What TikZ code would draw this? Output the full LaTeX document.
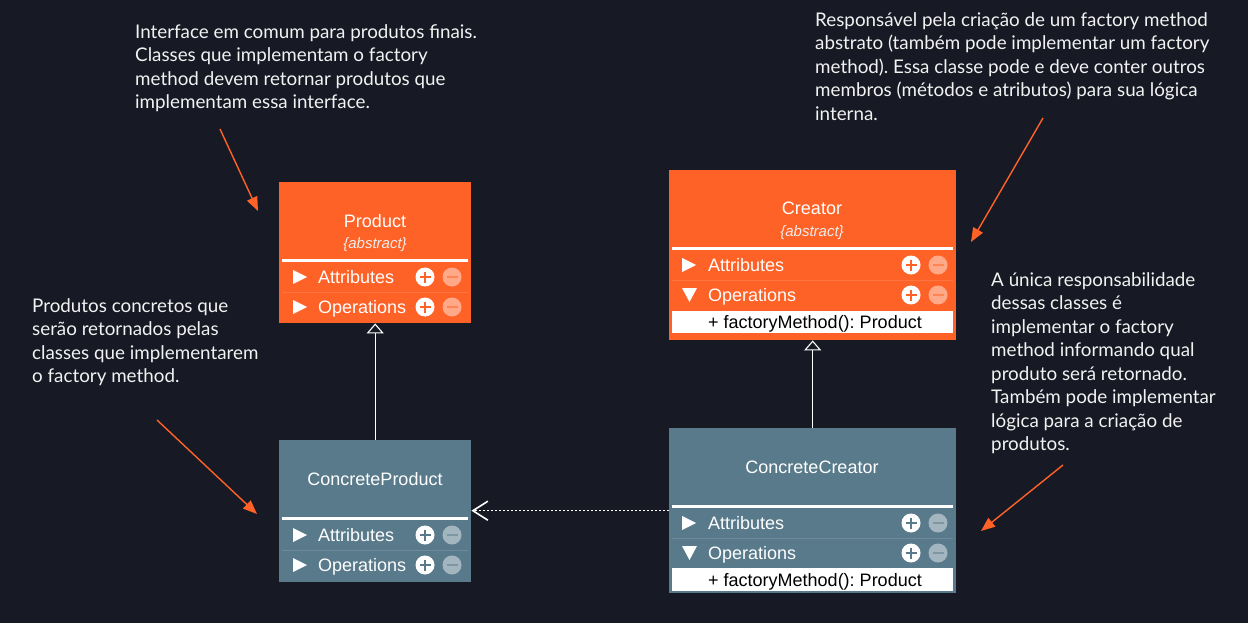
\documentclass[tikz,border=0pt]{standalone}
\usepackage{fontspec}
\setmainfont{Lato}
\newfontfamily\umlfont{Liberation Sans}
\usetikzlibrary{arrows.meta}
\frenchspacing

\definecolor{bgnavy}{RGB}{23,26,36}
\definecolor{abstractorange}{RGB}{255,98,39}
\definecolor{concreteblue}{RGB}{88,122,139}
\definecolor{notewhite}{RGB}{242,242,242}

% plus / minus buttons of a compartment row: x, y, box colour
\newcommand{\pmbuttons}[3]{%
  \fill[white] (#1,#2) circle (9.5);
  \draw[#3, line width=2.6] (#1-5.5,#2) -- (#1+5.5,#2) (#1,#2-5.5) -- (#1,#2+5.5);
  \fill[white!45!#3] (#1+27,#2) circle (9.5);
  \draw[white!22!#3, line width=2.6] (#1+21.5,#2) -- (#1+32.5,#2);
}
% collapsed / expanded markers: x, y
\newcommand{\tricollapsed}[2]{\fill[white] (#1,#2-7) -- (#1+14,#2) -- (#1,#2+7) -- cycle;}
\newcommand{\triexpanded}[2]{\fill[white] (#1,#2-7) -- (#1+15,#2-7) -- (#1+7.5,#2+7) -- cycle;}

\tikzset{
  classbox/.style={rectangle, inner sep=0, anchor=north west},
  classname/.style={text=white, font=\umlfont\fontsize{18}{20}\selectfont, inner sep=0, anchor=base},
  stereo/.style={text=white!93!black, font=\umlfont\itshape\fontsize{15}{17}\selectfont, inner sep=0, anchor=base},
  rowtext/.style={text=white, font=\umlfont\fontsize{18}{20}\selectfont, inner sep=0, anchor=base west},
  methodtext/.style={text=black, font=\umlfont\fontsize{18}{20}\selectfont, inner sep=0, anchor=base west},
  note/.style={text=notewhite, font=\fontsize{18.8}{23.5}\selectfont, align=left, inner sep=0, anchor=north west},
  inherit/.style={draw=white, line width=1.1, -{Triangle[length=10pt, width=17pt, fill=bgnavy]}},
  realizes/.style={draw=white, line width=1.5, dash pattern=on 2pt off 2pt, -{Straight Barb[length=15pt, width=19pt, line width=1.6pt]}},
  pointer/.style={draw=abstractorange, line width=1.4, -{Triangle[length=14pt, width=11pt]}},
}

\begin{document}
\begin{tikzpicture}[x=1pt,y=-1pt]
\useasboundingbox (0,0) rectangle (1248,623);
\fill[bgnavy] (0,0) rectangle (1248,623);

%% Product
\node[classbox, fill=abstractorange, minimum width=192, minimum height=141] (product) at (279,182) {};
\node[classname] (productname) at (375,227.5) {Product};
\node[stereo] (productstereo) at (375,248) {\{abstract\}};
\draw[white, line width=3] (282,260) -- (468,260);
\draw[white!12!abstractorange, line width=0.8] (282,292) -- (468,292);
\tricollapsed{293}{277}
\node[rowtext] (prodattr) at (318,283.4) {Attributes};
\pmbuttons{425}{277}{abstractorange}
\tricollapsed{293}{307}
\node[rowtext] (prodops) at (318,313.4) {Operations};
\pmbuttons{425}{307}{abstractorange}

%% Creator
\node[classbox, fill=abstractorange, minimum width=287, minimum height=170] (creator) at (669,170) {};
\node[classname] (creatorname) at (812,214.5) {Creator};
\node[stereo] (creatorstereo) at (812,236.5) {\{abstract\}};
\draw[white, line width=3] (672,248) -- (953,248);
\draw[white!12!abstractorange, line width=0.8] (672,280) -- (953,280);
\tricollapsed{682}{265}
\node[rowtext] (creatorattr) at (708,271.4) {Attributes};
\pmbuttons{911}{265}{abstractorange}
\triexpanded{682}{295}
\node[rowtext] (creatorops) at (708,301.4) {Operations};
\pmbuttons{911}{295}{abstractorange}
\fill[white] (672,311) rectangle (953,333);
\node[methodtext] (creatormethod) at (708,328.5) {+ factoryMethod(): Product};

%% ConcreteProduct
\node[classbox, fill=concreteblue, minimum width=192, minimum height=142] (cproduct) at (279,440) {};
\node[classname] (cproductname) at (375,485.5) {ConcreteProduct};
\draw[white, line width=3] (282,518) -- (468,518);
\draw[white!12!concreteblue, line width=0.8] (282,550) -- (468,550);
\tricollapsed{293}{535}
\node[rowtext] (cprodattr) at (318,541.4) {Attributes};
\pmbuttons{425}{535}{concreteblue}
\tricollapsed{293}{565}
\node[rowtext] (cprodops) at (318,571.4) {Operations};
\pmbuttons{425}{565}{concreteblue}

%% ConcreteCreator
\node[classbox, fill=concreteblue, minimum width=287, minimum height=165] (ccreator) at (669,428) {};
\node[classname] (ccreatorname) at (812,473.5) {ConcreteCreator};
\draw[white, line width=3] (672,506) -- (953,506);
\draw[white!12!concreteblue, line width=0.8] (672,538) -- (953,538);
\tricollapsed{682}{523}
\node[rowtext] (ccreatorattr) at (708,529.4) {Attributes};
\pmbuttons{911}{523}{concreteblue}
\triexpanded{682}{553}
\node[rowtext] (ccreatorops) at (708,559.4) {Operations};
\pmbuttons{911}{553}{concreteblue}
\fill[white] (672,568) rectangle (953,591);
\node[methodtext] (ccreatormethod) at (708,586) {+ factoryMethod(): Product};

%% relations
\draw[inherit] (cproduct.north) -- (product.south);
\draw[inherit] (ccreator.north) -- (creator.south);
\draw[realizes] (ccreator.west) -- (ccreator.west -| cproduct.east);

%% notes
\node[note] (noteproduct) at (135,24) {Interface em comum para produtos finais.\\Classes que implementam o factory\\method devem retornar produtos que\\implementam essa interface.};
\node[note] (notecreator) at (815,12) {Responsável pela criação de um factory method\\abstrato (também pode implementar um factory\\method). Essa classe pode e deve conter outros\\membros (métodos e atributos) para sua lógica\\interna.};
\node[note] (notecproduct) at (32,298) {Produtos concretos que\\serão retornados pelas\\classes que implementarem\\o factory method.};
\node[note] (noteccreator) at (991,272) {A única responsabilidade\\dessas classes é\\implementar o factory\\method informando qual\\produto será retornado.\\Também pode implementar\\lógica para a criação de\\produtos.};

%% pointers from the notes
\coordinate (ptproduct) at (220,129);
\coordinate (ptcreator) at (1043,118);
\coordinate (ptcproduct) at (157,420);
\coordinate (ptccreator) at (1063,465);
\draw[pointer] (ptproduct) -- (258,211);
\draw[pointer] (ptcreator) -- (971,242);
\draw[pointer] (ptcproduct) -- (257,514);
\draw[pointer] (ptccreator) -- (981,531);

\end{tikzpicture}
\end{document}
